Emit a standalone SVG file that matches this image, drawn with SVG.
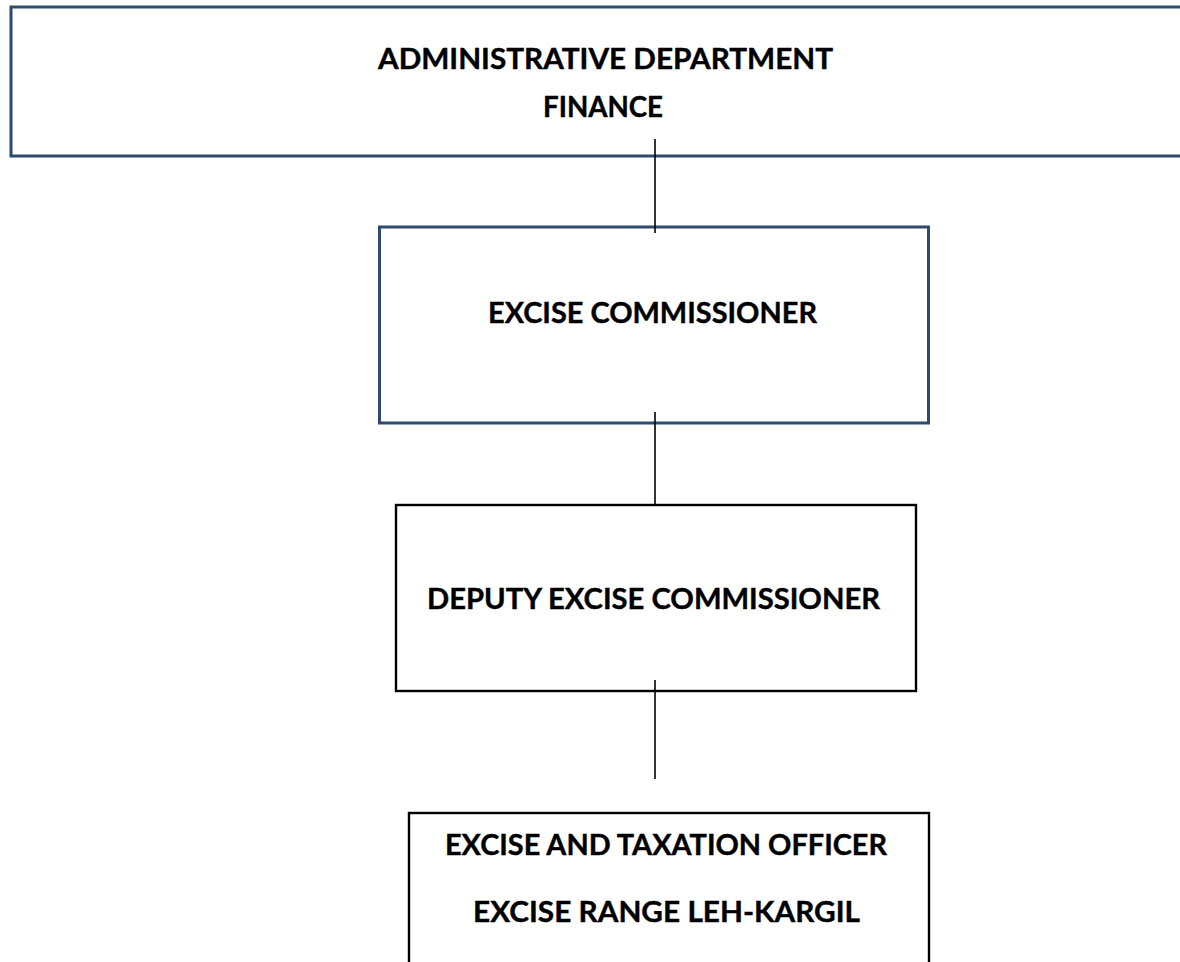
<svg xmlns="http://www.w3.org/2000/svg" width="1180" height="962" viewBox="0 0 1180 962">
<style>
.bg{fill:#ffffff}
.blue{fill:#ffffff;stroke:#2e4a6e;stroke-width:3}
.black{fill:#ffffff;stroke:#000000;stroke-width:2.4}
.conn{stroke:#000000;stroke-width:1.6;fill:none}
.t{font-family:Lato,"Open Sans","Liberation Sans",sans-serif;font-weight:bold;font-size:29px;fill:#000000;text-anchor:middle;stroke:#000000;stroke-width:0.4}
</style>
<rect class="bg" x="0" y="0" width="1180" height="962"/>
<g id="node-admin">
<rect class="blue" x="11" y="7" width="1200" height="149"/>
<text class="t" x="605.5" y="69" textLength="455" lengthAdjust="spacingAndGlyphs">ADMINISTRATIVE DEPARTMENT</text>
<text class="t" x="603" y="117" textLength="120" lengthAdjust="spacingAndGlyphs">FINANCE</text>
</g>
<g id="node-commissioner">
<rect class="blue" x="379.5" y="227" width="549" height="196"/>
<text class="t" x="652.5" y="323" textLength="329" lengthAdjust="spacingAndGlyphs">EXCISE COMMISSIONER</text>
</g>
<g id="node-deputy">
<rect class="black" x="396" y="505" width="520" height="186"/>
<text class="t" x="653.5" y="609" textLength="453" lengthAdjust="spacingAndGlyphs">DEPUTY EXCISE COMMISSIONER</text>
</g>
<g id="node-officer">
<rect class="black" x="409" y="813" width="520" height="200"/>
<text class="t" x="666" y="855" textLength="442" lengthAdjust="spacingAndGlyphs">EXCISE AND TAXATION OFFICER</text>
<text class="t" x="666.5" y="922" textLength="387" lengthAdjust="spacingAndGlyphs">EXCISE RANGE LEH-KARGIL</text>
</g>
<g id="connectors">
<line class="conn" x1="655" y1="139" x2="655" y2="233"/>
<line class="conn" x1="655" y1="412" x2="655" y2="505"/>
<line class="conn" x1="655" y1="680" x2="655" y2="779"/>
</g>
</svg>
